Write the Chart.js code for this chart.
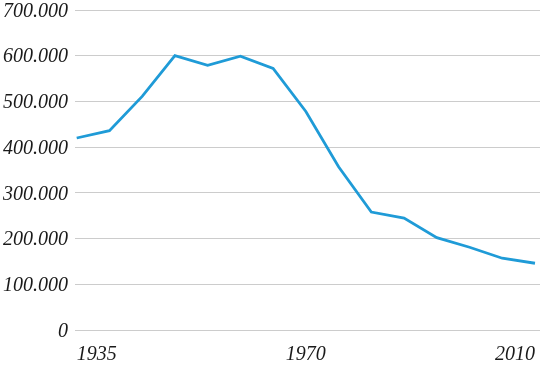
<!DOCTYPE html>
<html>
<head>
<meta charset="utf-8">
<script src="https://cdn.jsdelivr.net/npm/chart.js@4/dist/chart.umd.min.js"></script>
<style>
  html, body { margin: 0; padding: 0; background: #ffffff; }
  #wrap { width: 540px; height: 367px; position: relative; }
</style>
</head>
<body>
<div id="wrap"><canvas id="c"></canvas></div>
<script>
// Category labels (only the labelled positions are shown in the picture)
const categories = ['1935', '', '', '', '', '', '', '1970', '', '', '', '', '', '', '2010'];
// Series values
const values = [420000, 436000, 511000, 600000, 579000, 599000, 572000, 478000, 357000, 258000, 245000, 202000, 181000, 157000, 146000];
// Tick positions (category indices) that carry a label
const labelledTicks = [0, 7, 14];
// Y tick values
const yTicks = [0, 100000, 200000, 300000, 400000, 500000, 600000, 700000];

function fmt(v) {
  return String(v).replace(/\B(?=(\d{3})+(?!\d))/g, '.');
}

const points = values.map((v, i) => ({ x: i, y: v }));
const font = { family: "'Liberation Serif', 'Times New Roman', serif", style: 'italic', size: 20, lineHeight: 1 };

new Chart(document.getElementById('c'), {
  type: 'line',
  data: {
    datasets: [{
      data: points,
      borderColor: '#1f9bd7',
      borderWidth: 2.8,
      pointRadius: 0,
      tension: 0,
      fill: false
    }]
  },
  options: {
    responsive: true,
    maintainAspectRatio: false,
    animation: false,
    layout: { padding: { left: 0, right: 0, top: 0, bottom: 2.5 } },
    plugins: { legend: { display: false }, tooltip: { enabled: false } },
    scales: {
      x: {
        type: 'linear',
        min: -0.052,
        max: 14.153,
        grid: { display: false, drawTicks: true, tickLength: 14.5 },
        border: { display: false },
        afterBuildTicks: (axis) => { axis.ticks = labelledTicks.map(v => ({ value: v })); },
        afterFit: (s) => { s.paddingLeft = 0; s.paddingRight = 0; },
        ticks: {
          autoSkip: false,
          maxRotation: 0,
          padding: 0,
          align: 'inner',
          color: '#1a1a1a',
          font: font,
          callback: (v) => categories[v] || ''
        }
      },
      y: {
        min: 0,
        max: 700000,
        afterBuildTicks: (axis) => { axis.ticks = yTicks.map(v => ({ value: v })); },
        afterFit: (s) => { s.width = 75; s.paddingTop = 10; },
        grid: { color: '#cccccc', lineWidth: 1, drawTicks: false },
        border: { display: false },
        ticks: {
          padding: 7,
          labelOffset: 1.5,
          color: '#1a1a1a',
          font: font,
          callback: (v) => fmt(v)
        }
      }
    }
  }
});
</script>
</body>
</html>
